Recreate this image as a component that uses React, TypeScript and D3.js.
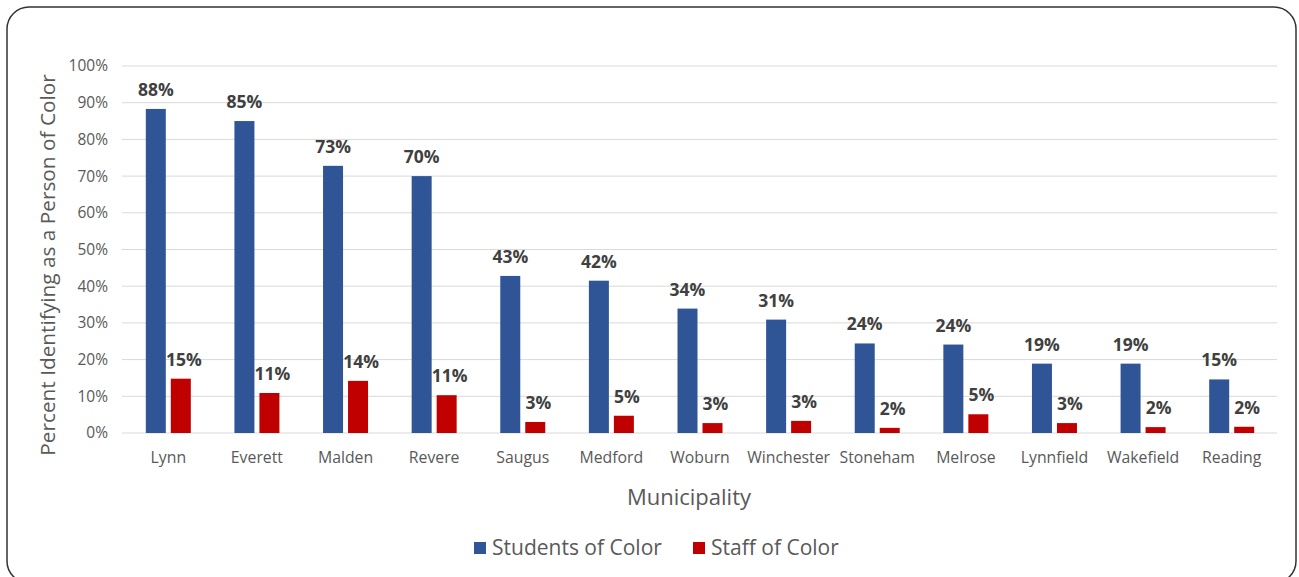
import React from "react";
import * as d3 from "d3";

const categories = ["Lynn", "Everett", "Malden", "Revere", "Saugus", "Medford", "Woburn", "Winchester", "Stoneham", "Melrose", "Lynnfield", "Wakefield", "Reading"];
const students = [88.3, 85.0, 72.8, 70.0, 42.8, 41.5, 33.9, 30.9, 24.4, 24.1, 18.9, 18.9, 14.6];
const staff = [14.8, 10.9, 14.2, 10.3, 3.0, 4.7, 2.7, 3.3, 1.4, 5.1, 2.7, 1.6, 1.7];
const studentLabels = ["88%", "85%", "73%", "70%", "43%", "42%", "34%", "31%", "24%", "24%", "19%", "19%", "15%"];
const staffLabels = ["15%", "11%", "14%", "11%", "3%", "5%", "3%", "3%", "2%", "5%", "3%", "2%", "2%"];
const yTicks = [0, 10, 20, 30, 40, 50, 60, 70, 80, 90, 100];
const seriesNames = ["Students of Color", "Staff of Color"];

const W = 1299;
const H = 577;
const FONT = "'Open Sans', Lato, sans-serif";
const BLUE = "#2F5597";
const RED = "#C00000";
const TEXT = "#595959";
const LABEL = "#404040";

export default function App() {
  const x = d3.scaleBand<string>().domain(categories).range([124, 1276]);
  const y = d3.scaleLinear().domain([0, 100]).range([433, 66]);
  const barW = 20;
  const gap = 5;

  return (
    <svg width={W} height={H} style={{ position: "absolute", left: 0, top: 0, background: "#fff" }} fontFamily={FONT}>
      <rect x={7} y={7} width={1289} height={576} rx={22} fill="#fff" stroke="#333" strokeWidth={1.5} />
      {yTicks.map((t) => (
        <g key={t}>
          <line x1={122} x2={1277} y1={y(t)} y2={y(t)} stroke="#D9D9D9" strokeWidth={1} />
          <text x={108} y={y(t)} dy="0.35em" textAnchor="end" fontSize={15.5} fill={TEXT}>
            {t}%
          </text>
        </g>
      ))}
      {categories.map((c, i) => {
        const cx = (x(c) as number) + x.bandwidth() / 2;
        const bx = cx - gap / 2 - barW;
        const rx = cx + gap / 2;
        return (
          <g key={c}>
            <rect x={bx} y={y(students[i])} width={barW} height={y(0) - y(students[i])} fill={BLUE} />
            <rect x={rx} y={y(staff[i])} width={barW} height={y(0) - y(staff[i])} fill={RED} />
            <text x={bx + barW / 2} y={y(students[i]) - 13} textAnchor="middle" fontSize={17.5} fontWeight="bold" fill={LABEL}>
              {studentLabels[i]}
            </text>
            <text x={rx + barW / 2 + 3} y={y(staff[i]) - 13} textAnchor="middle" fontSize={17.5} fontWeight="bold" fill={LABEL}>
              {staffLabels[i]}
            </text>
            <text x={cx} y={463} textAnchor="middle" fontSize={15.8} fill={TEXT}>
              {c}
            </text>
          </g>
        );
      })}
      <text transform="translate(55,265) rotate(-90)" textAnchor="middle" fontSize={20.8} fill={TEXT}>
        Percent Identifying as a Person of Color
      </text>
      <text x={689} y={505} textAnchor="middle" fontSize={22} fill={TEXT}>
        Municipality
      </text>
      <g>
        <rect x={474} y={542} width={12} height={12} fill={BLUE} />
        <text x={492} y={555} fontSize={21} fill={TEXT}>
          {seriesNames[0]}
        </text>
        <rect x={693} y={542} width={12} height={12} fill={RED} />
        <text x={711} y={555} fontSize={21} fill={TEXT}>
          {seriesNames[1]}
        </text>
      </g>
    </svg>
  );
}
